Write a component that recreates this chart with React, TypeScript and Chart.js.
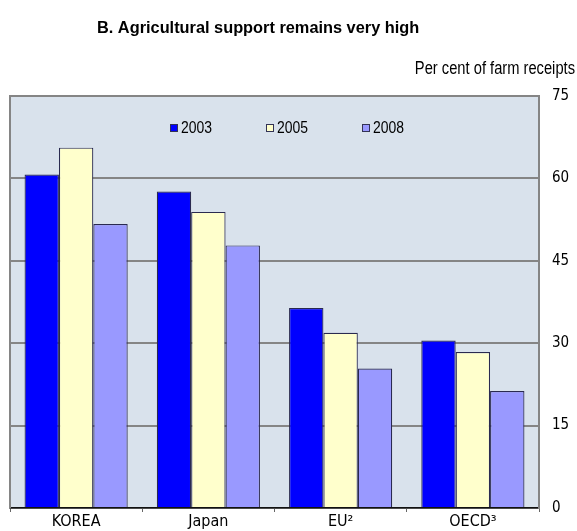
import React, { useEffect, useRef } from "react";
import { Chart, registerables } from "chart.js";

Chart.register(...registerables);

const categories = ["KOREA", "Japan", "EU²", "OECD³"];
const seriesNames = ["2003", "2005", "2008"];
const values2003 = [60.7, 57.6, 36.4, 30.5];
const values2005 = [65.6, 53.9, 31.9, 28.4];
const values2008 = [51.7, 47.8, 25.4, 21.3];
const yTicks = [0, 15, 30, 45, 60, 75];

const titleText = "B. Agricultural support remains very high";
const unitText = "Per cent of farm receipts";

const AXIS_FONT = "'DejaVu Sans Condensed', 'Liberation Sans', Arial, sans-serif";
const TEXT_FONT = "'Liberation Sans', Arial, sans-serif";
const colors = ["#0000ff", "#ffffcc", "#9999ff"];
const plotBg = "#d9e2ec";
const frameGray = "#858585";

// Draws text squeezed horizontally to give a narrow typeface look
function narrowText(
  ctx: CanvasRenderingContext2D,
  text: string,
  x: number,
  y: number,
  font: string,
  squeeze: number,
  align: "left" | "right"
) {
  ctx.save();
  ctx.font = font;
  ctx.textBaseline = "middle";
  ctx.textAlign = "left";
  const w = ctx.measureText(text).width * squeeze;
  const startX = align === "left" ? x : x - w;
  ctx.translate(startX, y);
  ctx.scale(squeeze, 1);
  ctx.fillText(text, 0, 0);
  ctx.restore();
}

// Plot background, frame, title, unit caption and an in-plot legend
const decorations = {
  id: "decorations",
  beforeDraw(chart: any) {
    const { ctx, chartArea } = chart;
    const { left, top, right, bottom } = chartArea;
    ctx.save();
    ctx.fillStyle = plotBg;
    ctx.fillRect(left, top, right - left, bottom - top);
    ctx.restore();
  },
  afterDraw(chart: any) {
    const { ctx, chartArea } = chart;
    const { left, top, right, bottom } = chartArea;
    ctx.save();
    ctx.strokeStyle = frameGray;
    ctx.lineWidth = 2;
    ctx.beginPath();
    ctx.moveTo(left, bottom);
    ctx.lineTo(left, top);
    ctx.lineTo(right, top);
    ctx.stroke();

    ctx.fillStyle = "#000";
    narrowText(ctx, titleText, 97, 28, `bold 16.5px ${TEXT_FONT}`, 0.99, "left");
    narrowText(ctx, unitText, 575, 69, `17.5px ${TEXT_FONT}`, 0.84, "right");

    const legendX = [170, 266, 362];
    const legendY = 128;
    chart.data.datasets.forEach((ds: any, i: number) => {
      const x = legendX[i];
      ctx.fillStyle = ds.backgroundColor;
      ctx.fillRect(x, legendY - 4, 8, 8);
      ctx.strokeStyle = "#333355";
      ctx.lineWidth = 1;
      ctx.strokeRect(x + 0.5, legendY - 3.5, 7, 7);
      ctx.fillStyle = "#000";
      narrowText(ctx, ds.label, x + 11, legendY, `17px ${TEXT_FONT}`, 0.82, "left");
    });
    ctx.restore();
  },
};

export default function App() {
  const canvasRef = useRef<HTMLCanvasElement | null>(null);

  useEffect(() => {
    document.body.style.margin = "0";
    const canvas = canvasRef.current;
    if (!canvas) return;
    const chart = new Chart(canvas, {
      type: "bar",
      data: {
        labels: categories,
        datasets: [values2003, values2005, values2008].map((vals, i) => ({
          label: seriesNames[i],
          data: vals,
          backgroundColor: colors[i],
          borderColor: "#2a2a50",
          borderWidth: 1.2,
          categoryPercentage: 0.78,
          barPercentage: 1.0,
        })),
      },
      options: {
        animation: false,
        responsive: false,
        maintainAspectRatio: false,
        layout: { padding: { top: 96, left: 10, right: 0, bottom: 0 } },
        plugins: {
          legend: { display: false },
          title: { display: false },
          tooltip: { enabled: false },
        },
        scales: {
          x: {
            grid: {
              offset: true,
              drawOnChartArea: false,
              drawTicks: true,
              tickLength: 4,
              color: "#666",
            },
            border: { display: true, color: "#111", width: 1.5 },
            ticks: {
              color: "#000",
              font: { family: AXIS_FONT, size: 16 },
              padding: 0,
              maxRotation: 0,
            },
            afterFit(scale: any) {
              scale.height = 23;
            },
          },
          y: {
            position: "right",
            min: 0,
            max: 75,
            afterBuildTicks(scale: any) {
              scale.ticks = yTicks.map((v) => ({ value: v }));
            },
            grid: {
              color: frameGray,
              lineWidth: 2,
              drawTicks: false,
            },
            border: { display: true, color: frameGray, width: 2 },
            ticks: {
              color: "#000",
              font: { family: AXIS_FONT, size: 15 },
              padding: 13,
            },
            afterFit(scale: any) {
              scale.width = 38;
            },
          },
        },
      },
      plugins: [decorations],
    });
    return () => chart.destroy();
  }, []);

  return (
    <div style={{ width: 577, height: 531, background: "#fff" }}>
      <canvas ref={canvasRef} width={577} height={531} />
    </div>
  );
}
